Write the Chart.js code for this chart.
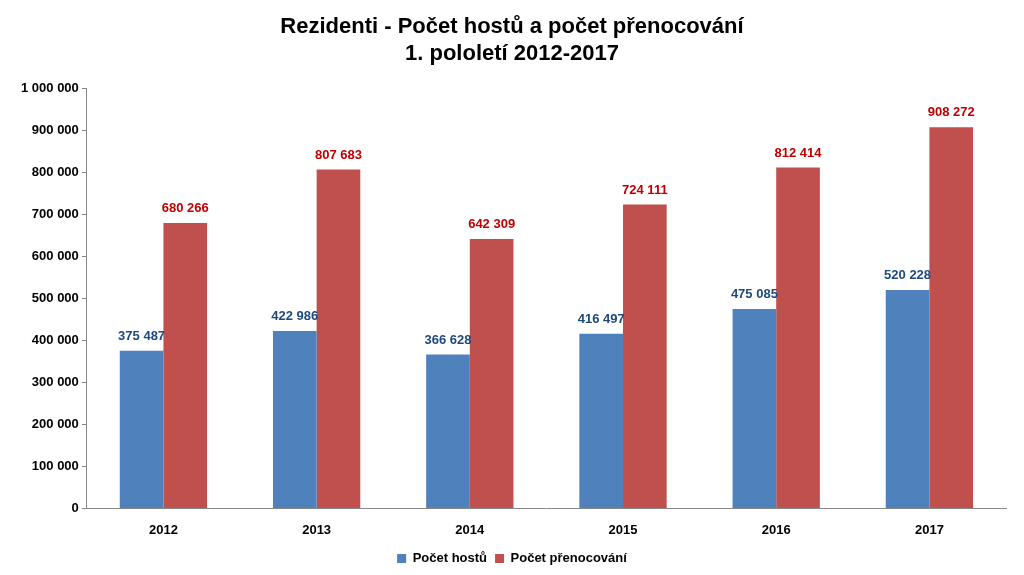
<!DOCTYPE html>
<html><head><meta charset="utf-8">
<script src="https://cdn.jsdelivr.net/npm/chart.js@4"></script>
<style>html,body{margin:0;background:#fff}#w{width:1024px;height:575px}</style>
</head><body><div id="w"><canvas id="c"></canvas></div>
<script>
const categories = ['2012','2013','2014','2015','2016','2017'];
const guests = [375487, 422986, 366628, 416497, 475085, 520228];
const nights = [680266, 807683, 642309, 724111, 812414, 908272];
const fmt = v => String(v).replace(/\B(?=(\d{3})+(?!\d))/g, ' ');
const labelPlugin = {
  id: 'lbl',
  afterDatasetsDraw(chart) {
    const ctx = chart.ctx;
    ctx.save();
    ctx.font = 'bold 13px "Liberation Sans", Arial';
    ctx.textAlign = 'center';
    ctx.textBaseline = 'bottom';
    chart.data.datasets.forEach((ds, i) => {
      ctx.fillStyle = i === 0 ? '#1F497D' : '#C00000';
      chart.getDatasetMeta(i).data.forEach((el, j) => {
        ctx.fillText(fmt(ds.data[j]), el.x, el.y - 8);
      });
    });
    ctx.restore();
  }
};
new Chart(document.getElementById('c'), {
  type: 'bar',
  data: {
    labels: categories,
    datasets: [
      {label: 'Počet hostů', data: guests, backgroundColor: '#4F81BD'},
      {label: 'Počet přenocování', data: nights, backgroundColor: '#C0504D'}
    ]
  },
  options: {
    responsive: true, maintainAspectRatio: false, animation: false,
    layout: {padding: {left: 18, right: 18, top: 4, bottom: 0}},
    datasets: {bar: {categoryPercentage: 0.57, barPercentage: 1}},
    plugins: {
      title: {display: true, text: ['Rezidenti - Počet hostů a počet přenocování', '1. pololetí 2012-2017'],
        color: '#000', font: {family: '"Liberation Sans", Arial', size: 22, weight: 'bold'}, padding: {top: 10, bottom: 22}, lineHeight: 1.25},
      legend: {position: 'bottom', labels: {boxWidth: 9, boxHeight: 9, color: '#000', padding: 8,
        font: {family: '"Liberation Sans", Arial', size: 13, weight: 'bold'}}},
      tooltip: {enabled: false}
    },
    scales: {
      x: {grid: {display: false}, border: {color: '#888'},
        ticks: {color: '#000', padding: 6, font: {family: '"Liberation Sans", Arial', size: 13, weight: 'bold'}}},
      y: {min: 0, max: 1000000, grid: {drawOnChartArea: false, drawTicks: true, tickLength: 5, color: '#888'}, border: {color: '#888'},
        ticks: {stepSize: 100000, color: '#000', callback: v => fmt(v),
          font: {family: '"Liberation Sans", Arial', size: 13, weight: 'bold'}}}
    }
  },
  plugins: [labelPlugin]
});
</script></body></html>
